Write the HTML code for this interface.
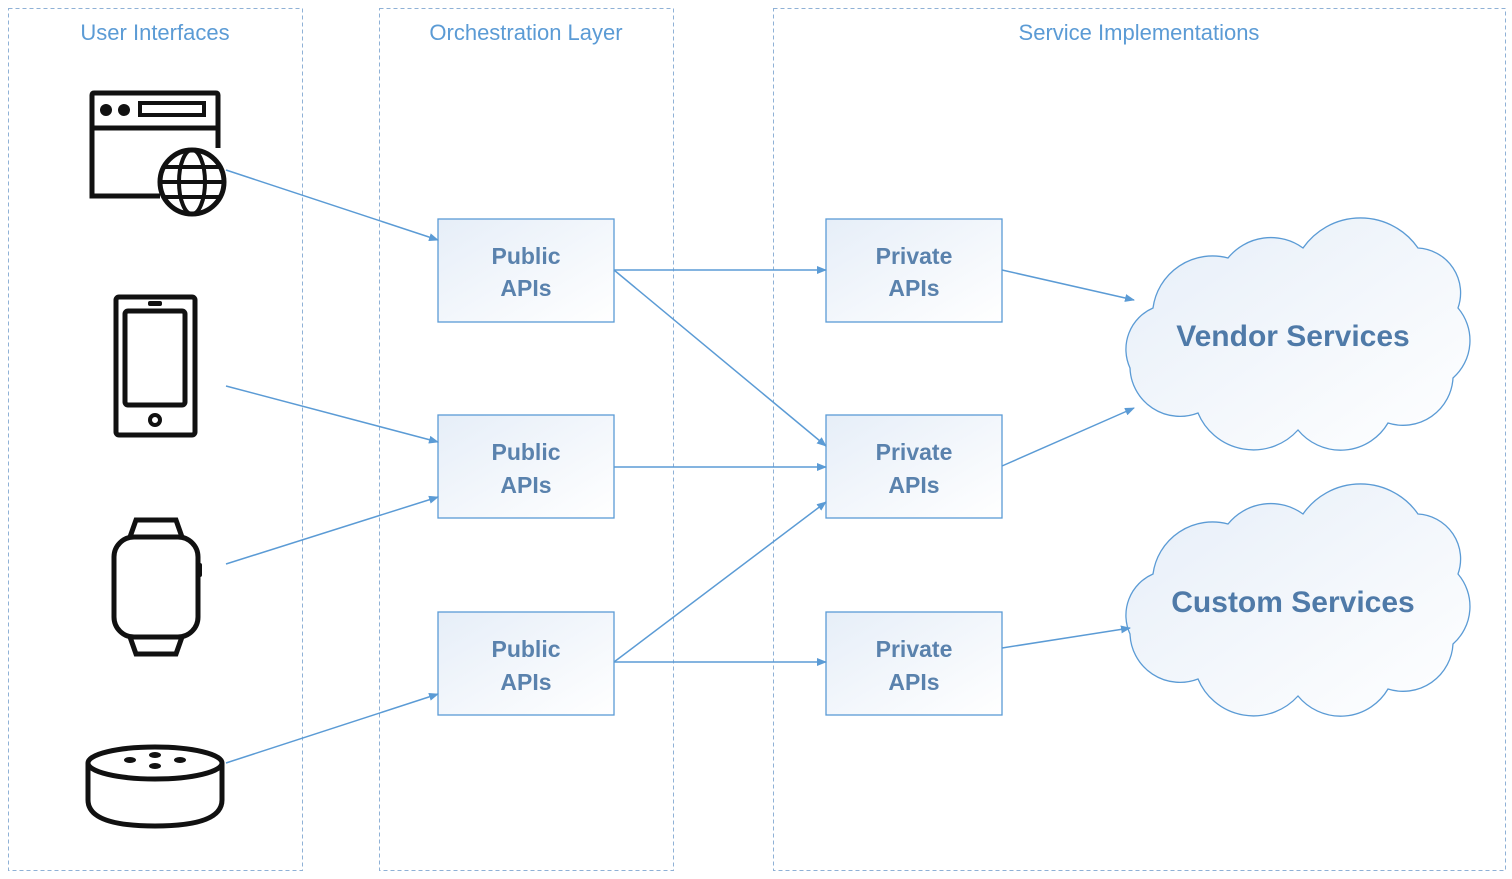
<!DOCTYPE html>
<html><head><meta charset="utf-8"><style>
html,body{margin:0;padding:0;background:#fff;}
svg{display:block;font-family:"Liberation Sans",sans-serif;}
</style></head><body>
<svg width="1512" height="879" viewBox="0 0 1512 879">
<defs>
<marker id="a" markerWidth="10" markerHeight="8" refX="9" refY="4" orient="auto" markerUnits="userSpaceOnUse">
<path d="M0,0 L10,4 L0,8 z" fill="#5b9bd5"/></marker>
<linearGradient id="g" x1="0" y1="0" x2="1" y2="1"><stop offset="0" stop-color="#e6eef8"/><stop offset="1" stop-color="#ffffff"/></linearGradient>
<path id="cloud" d="M12,150 A45,45 0 0 1 35,90 A60,60 0 0 1 110,40 A55,55 0 0 1 185,30 A70,70 0 0 1 300,30 A45,45 0 0 1 340,90 A50,50 0 0 1 335,160 A50,50 0 0 1 270,205 A55,55 0 0 1 180,212 A60,60 0 0 1 80,195 A50,50 0 0 1 12,150 Z"/>
</defs>
<g fill="none" stroke="#8fb1d6" stroke-dasharray="4,3" stroke-width="1">
<rect x="8.5" y="8.5" width="294" height="862"/>
<rect x="379.5" y="8.5" width="294" height="862"/>
<rect x="773.5" y="8.5" width="732" height="862"/>
</g>
<g fill="#5b9bd5" font-size="22" text-anchor="middle">
<text x="155" y="40">User Interfaces</text>
<text x="526" y="40">Orchestration Layer</text>
<text x="1139" y="40">Service Implementations</text>
</g>
<g fill="url(#g)" stroke="#5b9bd5" stroke-width="1.3">
<rect x="438" y="219" width="176" height="103"/><rect x="438" y="415" width="176" height="103"/><rect x="438" y="612" width="176" height="103"/>
<rect x="826" y="219" width="176" height="103"/><rect x="826" y="415" width="176" height="103"/><rect x="826" y="612" width="176" height="103"/>
<use href="#cloud" transform="translate(1118,218)"/>
<use href="#cloud" transform="translate(1118,484)"/>
</g>
<g fill="#5a82ad" font-size="23" text-anchor="middle" font-weight="bold">
<text x="526" y="264">Public</text><text x="526" y="296">APIs</text>
<text x="526" y="460">Public</text><text x="526" y="493">APIs</text>
<text x="526" y="657">Public</text><text x="526" y="690">APIs</text>
<text x="914" y="264">Private</text><text x="914" y="296">APIs</text>
<text x="914" y="460">Private</text><text x="914" y="493">APIs</text>
<text x="914" y="657">Private</text><text x="914" y="690">APIs</text>
</g>
<g fill="#4f7aa8" font-size="30" font-weight="bold" text-anchor="middle">
<text x="1293" y="346">Vendor Services</text>
<text x="1293" y="612">Custom Services</text>
</g>
<g stroke="#5b9bd5" stroke-width="1.5" marker-end="url(#a)">
<line x1="226" y1="170" x2="438" y2="240"/>
<line x1="226" y1="386" x2="438" y2="442"/>
<line x1="226" y1="564" x2="438" y2="497"/>
<line x1="226" y1="763" x2="438" y2="694"/>
<line x1="614" y1="270" x2="826" y2="270"/>
<line x1="614" y1="270" x2="826" y2="446"/>
<line x1="614" y1="467" x2="826" y2="467"/>
<line x1="614" y1="662" x2="826" y2="502"/>
<line x1="614" y1="662" x2="826" y2="662"/>
<line x1="1002" y1="270" x2="1134" y2="300"/>
<line x1="1002" y1="466" x2="1134" y2="408"/>
<line x1="1002" y1="648" x2="1130" y2="628"/>
</g>
<g fill="none" stroke="#111" stroke-width="5">
<path d="M160,196 H92 V95 Q92,93 94,93 H216 Q218,93 218,95 V148"/>
<line x1="92" y1="128" x2="218" y2="128"/>
<rect x="140" y="103" width="64" height="12" stroke-width="4"/>
<circle cx="192" cy="182" r="32"/>
<ellipse cx="192" cy="182" rx="13" ry="32" stroke-width="4"/>
<line x1="160" y1="182" x2="224" y2="182" stroke-width="4"/>
<line x1="165" y1="167" x2="219" y2="167" stroke-width="4"/>
<line x1="165" y1="197" x2="219" y2="197" stroke-width="4"/>
<rect x="116" y="297" width="79" height="138" rx="3"/>
<rect x="125" y="311" width="60" height="94" rx="3"/>
<circle cx="155" cy="420" r="5" stroke-width="4"/>
<rect x="114" y="537" width="84" height="100" rx="20"/>
<path d="M130,537 L136,520 H176 L182,537 M130,637 L136,654 H176 L182,637"/>
<ellipse cx="155" cy="763" rx="67" ry="16"/>
<path d="M88,763 V800 Q88,826 155,826 Q222,826 222,800 V763"/>
</g>
<g fill="#111">
<circle cx="106" cy="110" r="6"/><circle cx="124" cy="110" r="6"/>
<rect x="148" y="301" width="14" height="5" rx="2"/>
<rect x="196" y="563" width="6" height="14" rx="2"/>
<ellipse cx="155" cy="755" rx="6" ry="3"/><ellipse cx="155" cy="766" rx="6" ry="3"/>
<ellipse cx="130" cy="760" rx="6" ry="3"/><ellipse cx="180" cy="760" rx="6" ry="3"/>
</g>
</svg>
</body></html>
